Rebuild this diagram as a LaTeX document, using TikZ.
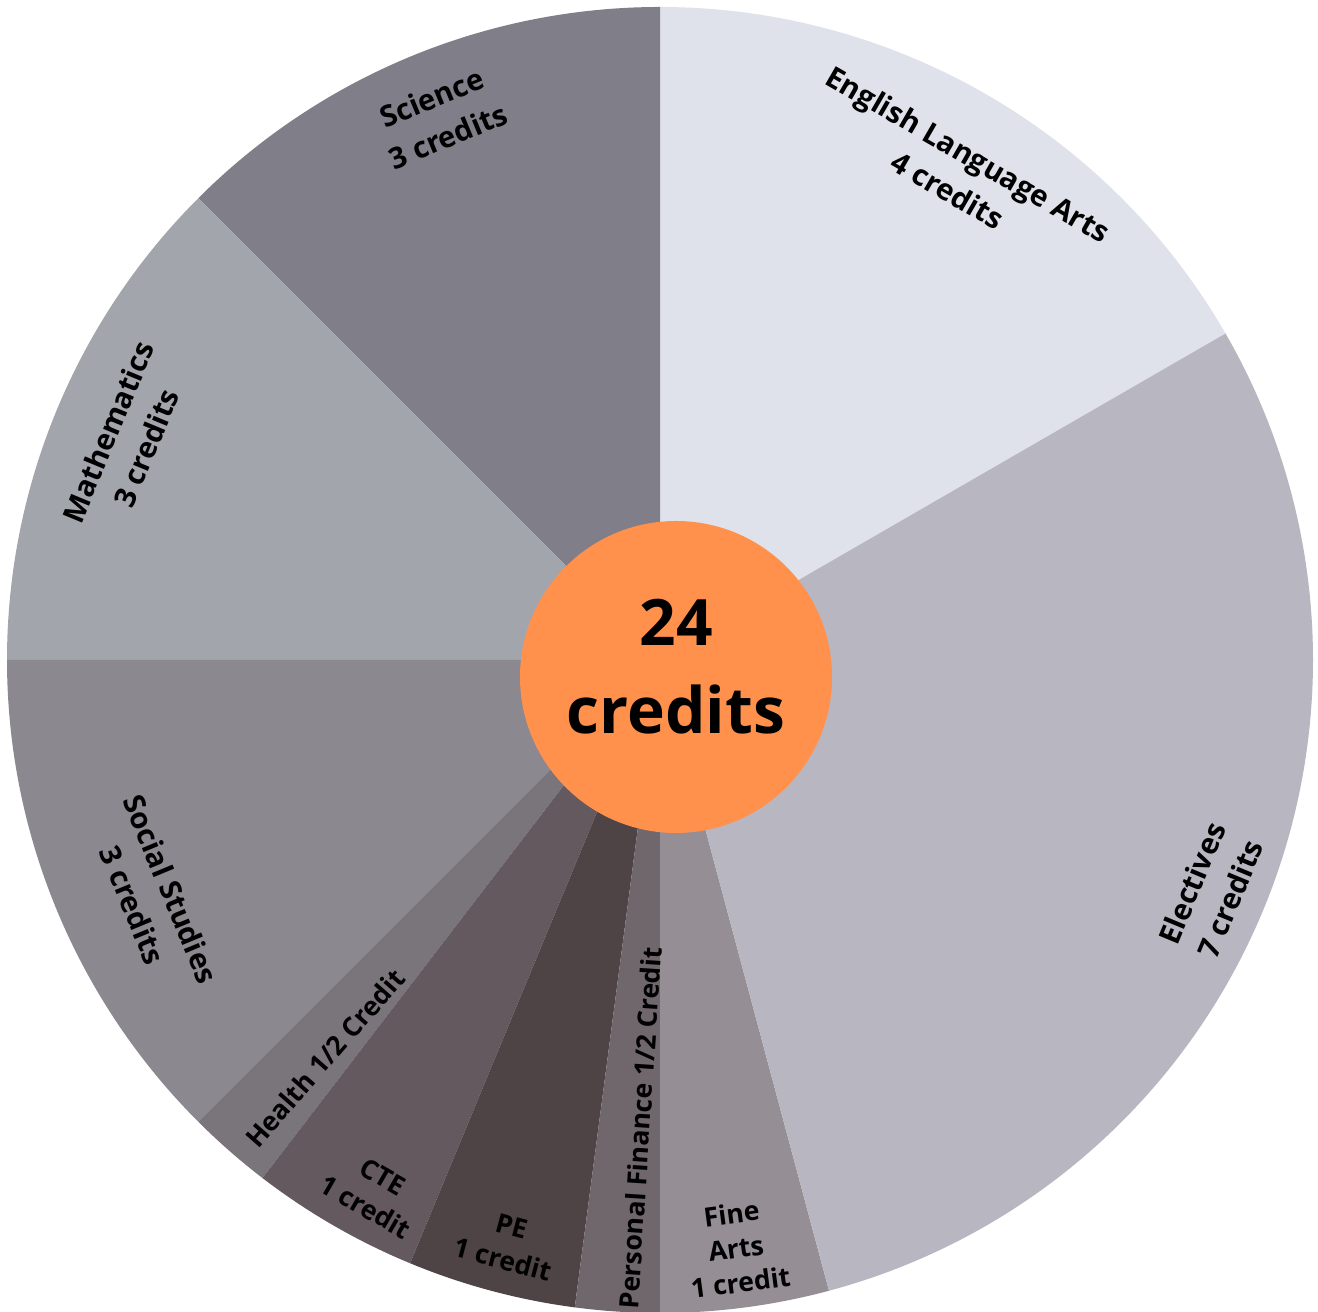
\documentclass[tikz,border=0pt]{standalone}
\usepackage{fontspec}
\setmainfont{Open Sans}
\definecolor{cELA}{HTML}{E0E2EB}
\definecolor{cSci}{HTML}{807E88}
\definecolor{cMath}{HTML}{A3A5AD}
\definecolor{cSoc}{HTML}{8B8890}
\definecolor{cHealth}{HTML}{7A757A}
\definecolor{cCTE}{HTML}{64595E}
\definecolor{cPE}{HTML}{4E4445}
\definecolor{cPF}{HTML}{70676C}
\definecolor{cFine}{HTML}{958F95}
\definecolor{cElec}{HTML}{B8B6C0}
\definecolor{cCenter}{HTML}{FF914D}
\newcommand\pieslice[3]{\fill[#3] (O) -- ++(#1:653) arc[start angle=#1, end angle=#2, radius=653] -- cycle;}
\begin{document}
\begin{tikzpicture}[x=0.75pt,y=0.75pt,
  lbl/.style={font=\fontsize{22}{31}\selectfont\bfseries, align=center, text=black, inner sep=0pt},
  slbl/.style={font=\fontsize{20}{26}\selectfont\bfseries, align=center, text=black, inner sep=0pt},
  centerdisc/.style={circle, fill=cCenter, minimum size=234pt, inner sep=0pt},
  centerlbl/.style={align=center, inner sep=0pt, font=\fontsize{48}{66}\selectfont\bfseries, text=black}]
\useasboundingbox (0,0) rectangle (1318,1312);
\coordinate (O) at (660,652);
\pieslice{30}{90}{cELA}
\pieslice{90}{135}{cSci}
\pieslice{135}{180}{cMath}
\pieslice{180}{225}{cSoc}
\pieslice{225}{232.5}{cHealth}
\pieslice{232.5}{247.5}{cCTE}
\pieslice{247.5}{262.5}{cPE}
\pieslice{262.5}{270}{cPF}
\pieslice{270}{285}{cFine}
\pieslice{285}{390}{cElec}
\node[centerdisc] (disc) at (676,635) {};
\node[centerlbl] (total) at (676,645) {24\\credits};
\node[lbl, rotate=-30] (ela) at (958,1140) {English Language Arts\\4 credits};
\node[lbl, rotate=22.5] (sci) at (440,1195) {Science\\3 credits};
\node[lbl, rotate=67.5] (math) at (127,872) {Mathematics\\3 credits};
\node[lbl, rotate=-67.5] (soc) at (152,415) {Social Studies\\3 credits};
\node[slbl, rotate=48.75] (health) at (325,254) {Health 1/2 Credit};
\node[slbl, rotate=-30] (cte) at (374,120) {CTE\\1 credit};
\node[slbl, rotate=-15] (pe) at (507,69) {PE\\1 credit};
\node[slbl, rotate=86.25] (pf) at (640,184) {Personal Finance 1/2 Credit};
\node[slbl, rotate=7.5] (fine) at (736,64) {Fine\\Arts\\1 credit};
\node[lbl, rotate=67.5] (elec) at (1211,421) {Electives\\7 credits};
\end{tikzpicture}
\end{document}
